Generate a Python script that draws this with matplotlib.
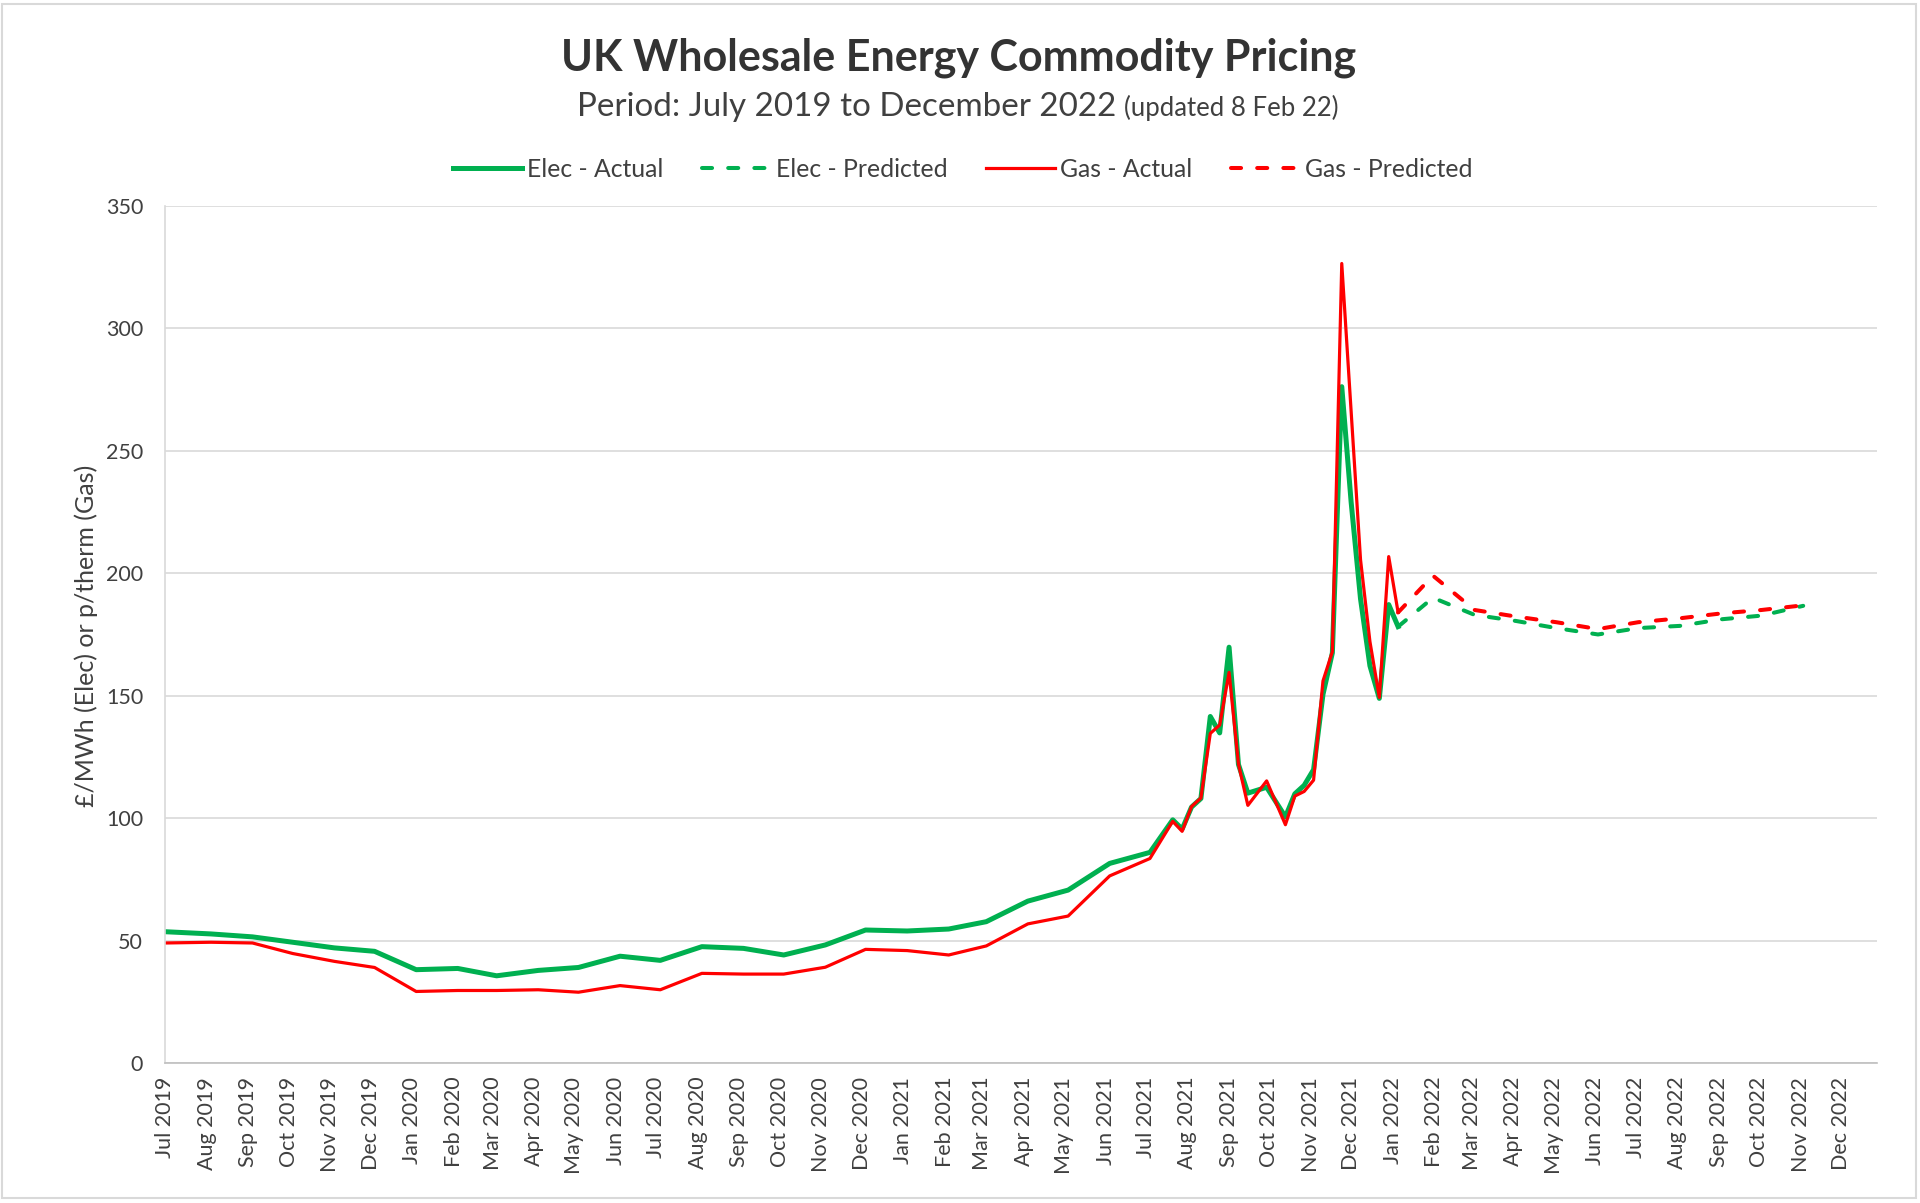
import matplotlib
matplotlib.use('Agg')
import matplotlib.pyplot as plt
import matplotlib.dates as mdates
import pandas as pd
from matplotlib.patches import Rectangle

plt.rcParams['font.family'] = ['Lato', 'DejaVu Sans']

# actual prices: monthly to Jul 2021, then weekly
actual_dates = [
    '2019-07-01', '2019-08-04', '2019-09-04', '2019-10-04', '2019-11-04', '2019-12-04',
    '2020-01-04', '2020-02-04', '2020-03-04', '2020-04-04', '2020-05-04', '2020-06-04',
    '2020-07-04', '2020-08-04', '2020-09-04', '2020-10-04', '2020-11-04', '2020-12-04',
    '2021-01-04', '2021-02-04', '2021-03-04', '2021-04-04', '2021-05-04', '2021-06-04',
    '2021-07-04', '2021-07-21', '2021-07-28', '2021-08-04', '2021-08-11', '2021-08-18',
    '2021-08-25', '2021-09-01', '2021-09-08', '2021-09-15', '2021-09-29', '2021-10-13',
    '2021-10-20', '2021-10-27', '2021-11-03', '2021-11-10', '2021-11-17', '2021-11-24',
    '2021-12-01', '2021-12-08', '2021-12-15', '2021-12-22', '2021-12-29', '2022-01-05',
]
elec_actual = [
    53.6, 52.7, 51.5, 49.3, 47.0, 45.6,
    38.1, 38.6, 35.6, 37.8, 39.0, 43.6,
    41.9, 47.5, 46.8, 44.1, 48.2, 54.3,
    53.9, 54.7, 57.7, 66.1, 70.6, 81.5,
    86.0, 99.3, 95.5, 104.5, 108.0, 141.5,
    134.8, 169.8, 121.9, 110.2, 112.6, 100.5,
    109.9, 113.4, 119.8, 150.5, 167.5, 276.2,
    229.0, 189.5, 162.2, 148.9, 187.2, 178.2,
]
gas_actual = [
    49.0, 49.3, 49.0, 44.7, 41.5, 39.0,
    29.2, 29.6, 29.6, 29.9, 28.9, 31.6,
    29.9, 36.6, 36.3, 36.3, 39.1, 46.4,
    45.9, 44.1, 47.8, 56.8, 60.0, 76.4,
    83.5, 98.7, 94.6, 104.7, 108.2, 134.6,
    138.0, 159.5, 122.0, 105.2, 115.2, 97.3,
    109.0, 110.9, 115.5, 156.0, 168.0, 326.5,
    266.0, 205.5, 172.1, 149.3, 206.8, 184.0,
]

# predicted prices
pred_dates = [
    '2022-01-05', '2022-01-31', '2022-03-03', '2022-04-03', '2022-05-03', '2022-06-03',
    '2022-07-03', '2022-08-03', '2022-09-03', '2022-10-03', '2022-11-03',
]
elec_pred = [178.2, 190.0, 183.0, 180.5, 177.6, 175.0, 177.6, 178.5, 181.2, 182.7, 186.7]
gas_pred = [184.0, 199.0, 185.0, 182.3, 180.0, 177.2, 180.0, 181.6, 183.6, 185.0, 186.9]

actual_x = pd.to_datetime(actual_dates)
pred_x = pd.to_datetime(pred_dates)

green = '#00B050'
red = '#FF0000'
text_col = '#404040'
dash = (0, (2.5, 4.0))

fig = plt.figure(figsize=(19.2, 12.03), dpi=100)
ax = fig.add_axes([0.0861, 0.1164, 0.8915, 0.7124])

ax.plot(actual_x, elec_actual, color=green, lw=3.6, label='Elec - Actual')
ax.plot(pred_x, elec_pred, color=green, lw=2.9, ls=dash, dash_capstyle='round',
        label='Elec - Predicted')
ax.plot(actual_x, gas_actual, color=red, lw=2.3, label='Gas - Actual')
ax.plot(pred_x, gas_pred, color=red, lw=2.9, ls=dash, dash_capstyle='round',
        label='Gas - Predicted')

ax.set_ylim(0, 350)
ax.set_yticks(range(0, 351, 50))
ax.set_xlim(pd.Timestamp('2019-07-01'), pd.Timestamp('2022-12-28'))
ax.xaxis.set_major_locator(mdates.MonthLocator())
ax.xaxis.set_major_formatter(mdates.DateFormatter('%b %Y'))
plt.setp(ax.get_xticklabels(), rotation=90, ha='center')
ax.tick_params(axis='x', length=0, pad=10, labelsize=15.5, colors=text_col)
ax.tick_params(axis='y', length=0, pad=16, labelsize=15.5, colors=text_col)

ax.grid(axis='y', color='#D9D9D9', lw=1.2)
ax.set_axisbelow(True)
for s in ['top', 'right']:
    ax.spines[s].set_visible(False)
ax.spines['left'].set_color('#D9D9D9')
ax.spines['left'].set_linewidth(1.2)
ax.spines['bottom'].set_color('#BFBFBF')
ax.spines['bottom'].set_linewidth(1.2)

fig.text(0.0448, 0.4717, '£/MWh (Elec) or p/therm (Gas)', rotation=90,
         ha='center', va='center', fontsize=18, color=text_col)

fig.text(0.499, 0.941, 'UK Wholesale Energy Commodity Pricing', ha='center',
         va='baseline', fontsize=31, fontweight='bold', color='#333333')
fig.text(0.5817, 0.9035, 'Period: July 2019 to December 2022', ha='right',
         va='baseline', fontsize=23.9, color=text_col)
fig.text(0.5855, 0.9035, '(updated 8 Feb 22)', ha='left',
         va='baseline', fontsize=18.5, color=text_col)

fig.legend(loc='center', bbox_to_anchor=(0.5014, 0.8595), ncol=4, frameon=False,
           fontsize=17.8, handlelength=2.8, handletextpad=0.2, columnspacing=1.55,
           labelcolor=text_col)

# chart area border
fig.patches.append(Rectangle((0.001, 0.004), 0.997, 0.993, transform=fig.transFigure,
                             fill=False, ec='#D9D9D9', lw=1.5))

fig.savefig('out.png', dpi=100)
